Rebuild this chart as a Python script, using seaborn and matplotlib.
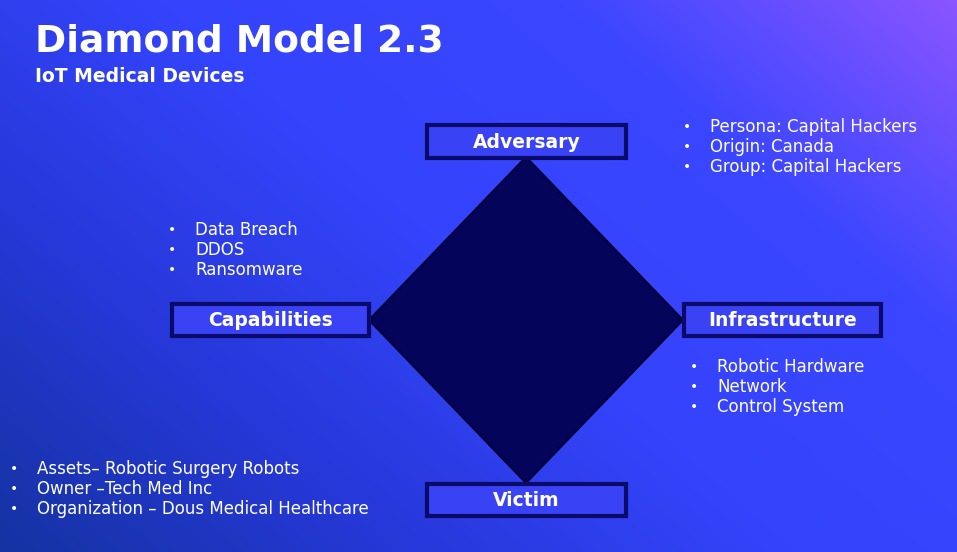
import matplotlib
matplotlib.use("Agg")
import matplotlib.pyplot as plt
from matplotlib.colors import LinearSegmentedColormap
from matplotlib.patches import Polygon, Rectangle
import numpy as np
import seaborn as sns

sns.set_theme(style="white")
plt.rcParams['font.family'] = ['DejaVu Sans']

title = "Diamond Model 2.3"
subtitle = "IoT Medical Devices"
node_names = ["Adversary", "Capabilities", "Infrastructure", "Victim"]
adversary_items = ["Persona: Capital Hackers", "Origin: Canada", "Group: Capital Hackers"]
capability_items = ["Data Breach", "DDOS", "Ransomware"]
infrastructure_items = ["Robotic Hardware", "Network", "Control System"]
victim_items = ["Assets\u2013 Robotic Surgery Robots", "Owner \u2013Tech Med Inc",
                "Organization \u2013 Dous Medical Healthcare"]

W, H = 957, 552
fig = plt.figure(figsize=(W / 100, H / 100), dpi=100)
ax = fig.add_axes([0, 0, 1, 1])
ax.set_xlim(0, W)
ax.set_ylim(H, 0)
ax.axis('off')

# diagonal gradient background
cmap = LinearSegmentedColormap.from_list("bg", ["#1533a2", "#2638d8", "#3444fc", "#3a46ff", "#8a55ff"])
yy, xx = np.mgrid[0:H, 0:W]
t = (xx / W) * 0.6 + (1 - yy / H) * 0.4
ax.imshow(t, cmap=cmap, extent=[0, W, H, 0], aspect='auto', zorder=0)

# diamond
cx, cy = 526, 320
ax.add_patch(Polygon([(cx, 157), (683, cy), (cx, 483), (369, cy)], closed=True,
                     facecolor="#04045a", edgecolor="#02023a", lw=1.5, zorder=1))

# boxes
boxes = {"Adversary": (427, 125, 199, 33), "Capabilities": (172, 304, 197, 32),
         "Infrastructure": (684, 304, 197, 32), "Victim": (427, 484, 199, 32)}
for name in node_names:
    x, y, w, h = boxes[name]
    ax.add_patch(Rectangle((x, y), w, h, facecolor="#3a42f5", edgecolor="#0a0a6a", lw=3, zorder=2))
    ax.text(x + w / 2, y + h / 2 + 1, name, color="white", fontsize=13.5, fontweight='bold',
            ha='center', va='center', zorder=3)

def bullets(items, x, y, gap=20):
    for i, s in enumerate(items):
        ax.text(x, y + i * gap, "\u2022", color="white", fontsize=10, va='center', ha='left', zorder=3)
        ax.text(x + 27, y + i * gap, s, color="white", fontsize=12, va='center', ha='left', zorder=3)

bullets(adversary_items, 683, 127)
bullets(capability_items, 168, 230)
bullets(infrastructure_items, 690, 367)
bullets(victim_items, 10, 469)

ax.text(35, 42, title, color="white", fontsize=27, fontweight='bold', va='center', ha='left', zorder=3)
ax.text(35, 77, subtitle, color="white", fontsize=13.5, fontweight='bold', va='center', ha='left', zorder=3)

fig.savefig("out.png", dpi=100)
